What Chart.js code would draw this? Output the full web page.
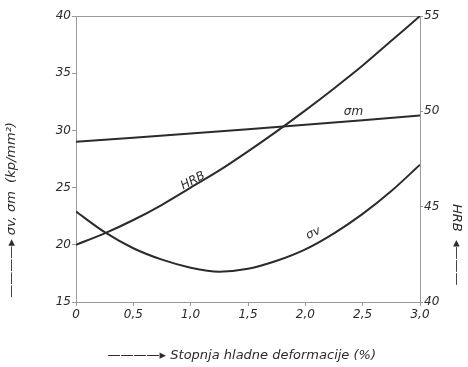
<!DOCTYPE html>
<html>
<head>
<meta charset="utf-8">
<script src="https://cdn.jsdelivr.net/npm/chart.js@4"></script>
<style>
  html, body { margin: 0; padding: 0; background: #fff; }
  #wrap { width: 468px; height: 367px; }
</style>
</head>
<body>
<div id="wrap"><canvas id="chart"></canvas></div>
<script>
// deformation degree (%)
var xs = [0, 0.25, 0.5, 0.75, 1.0, 1.25, 1.5, 1.75, 2.0, 2.25, 2.5, 2.75, 3.0];
// sigma v (kp/mm2), left axis
var sigmaV = [22.9, 21.1, 19.7, 18.7, 18.0, 17.65, 17.9, 18.6, 19.6, 21.0, 22.7, 24.7, 27.0];
// HRB, right axis
var hrb = [43.0, 43.6, 44.3, 45.1, 46.0, 46.9, 47.9, 48.95, 50.05, 51.2, 52.4, 53.7, 55.0];
// sigma m (kp/mm2), left axis
var sigmaMX = [0, 1.5, 3.0];
var sigmaM = [29.0, 30.1, 31.3];

var xTicks = [0, 0.5, 1.0, 1.5, 2.0, 2.5, 3.0];
var leftTicks = [15, 20, 25, 30, 35, 40];
var rightTicks = [40, 45, 50, 55];

// curve labels: [text, x, value, axis, angle]
var curveLabels = [
  ['σm', 2.42, 31.6, 'y', 0],
  ['HRB', 1.02, 46.35, 'y2', -0.5],
  ['σv', 2.07, 21.0, 'y', -0.45]
];

function pts(x, y) {
  return x.map(function (v, i) { return { x: v, y: y[i] }; });
}

function fmt(v) {
  return v === 0 ? '0' : v.toFixed(1).replace('.', ',');
}

var ink = '#2b2b2b';
var font = { family: 'DejaVu Sans', size: 12, style: 'italic' };
var titleFont = { family: 'DejaVu Sans', size: 13, style: 'italic' };

var frame = {
  id: 'frame',
  beforeDatasetsDraw: function (chart) {
    var a = chart.chartArea, ctx = chart.ctx;
    ctx.save();
    ctx.strokeStyle = '#9a9a9a';
    ctx.lineWidth = 1;
    ctx.beginPath();
    ctx.moveTo(a.left, a.top + 0.5);
    ctx.lineTo(a.right, a.top + 0.5);
    ctx.stroke();
    ctx.restore();
  },
  afterDatasetsDraw: function (chart) {
    var ctx = chart.ctx;
    ctx.save();
    ctx.fillStyle = ink;
    ctx.font = 'italic 12px "DejaVu Sans"';
    ctx.textAlign = 'center';
    ctx.textBaseline = 'middle';
    curveLabels.forEach(function (l) {
      var px = chart.scales.x.getPixelForValue(l[1]);
      var py = chart.scales[l[3]].getPixelForValue(l[2]);
      ctx.save();
      ctx.translate(px, py);
      ctx.rotate(l[4]);
      ctx.fillText(l[0], 0, 0);
      ctx.restore();
    });
    ctx.restore();
  }
};

var ctx = document.getElementById('chart');
var chart = new Chart(ctx, {
  type: 'line',
  data: {
    datasets: [
      { label: 'σv', data: pts(xs, sigmaV), yAxisID: 'y' },
      { label: 'HRB', data: pts(xs, hrb), yAxisID: 'y2' },
      { label: 'σm', data: pts(sigmaMX, sigmaM), yAxisID: 'y', tension: 0 }
    ]
  },
  options: {
    responsive: true,
    maintainAspectRatio: false,
    animation: false,
    layout: { padding: { top: 16 } },
    elements: {
      line: { borderColor: ink, borderWidth: 2, tension: 0.4, cubicInterpolationMode: 'monotone' },
      point: { radius: 0 }
    },
    plugins: { legend: { display: false }, tooltip: { enabled: false } },
    scales: {
      x: {
        type: 'linear', min: 0, max: 3,
        afterFit: function (s) { s.height = 65; },
        afterBuildTicks: function (s) { s.ticks = xTicks.map(function (v) { return { value: v }; }); },
        grid: { drawOnChartArea: false, tickLength: 4, color: '#9a9a9a' },
        border: { color: '#9a9a9a' },
        ticks: { color: ink, font: font, padding: 2, callback: fmt, maxRotation: 0 },
        title: { display: true, text: '————▸ Stopnja hladne deformacije (%)   ', color: ink, font: titleFont, padding: { top: 14 } }
      },
      y: {
        position: 'left', min: 15, max: 40,
        afterFit: function (s) { s.width = 76; },
        afterBuildTicks: function (s) { s.ticks = leftTicks.map(function (v) { return { value: v }; }); },
        grid: { drawOnChartArea: false, tickLength: 4, color: '#9a9a9a' },
        border: { color: '#9a9a9a' },
        ticks: { color: ink, font: font, padding: 1 },
        title: { display: true, align: 'start', text: ' ————▸ σv, σm  (kp/mm²)', color: ink, font: titleFont, padding: { bottom: 8 } }
      },
      y2: {
        position: 'right', min: 40, max: 55,
        afterFit: function (s) { s.width = 48; },
        afterBuildTicks: function (s) { s.ticks = rightTicks.map(function (v) { return { value: v }; }); },
        grid: { drawOnChartArea: false, tickLength: 3, color: '#9a9a9a' },
        border: { color: '#9a9a9a' },
        ticks: { color: ink, font: font, padding: 1 },
        title: { display: true, align: 'start', text: 'HRB  ◂———    ', color: ink, font: titleFont, padding: { top: 4 } }
      }
    }
  },
  plugins: [frame]
});
</script>
</body>
</html>
